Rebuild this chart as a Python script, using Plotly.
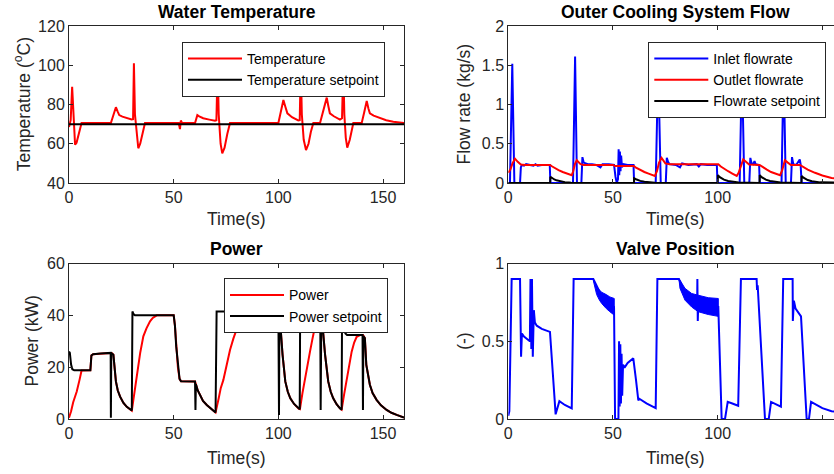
import plotly.graph_objects as go

# ---------------- Data ----------------
x_ticks = [0, 50, 100, 150]
x_ticklabels = ["0", "50", "100", "150"]

# Water temperature
temp_t = [0, 0.8, 1.5, 2.1, 2.9, 3.6, 4.8, 6.0,
          20.0, 21.0, 22.4, 23.2, 24.0, 25.5, 27.5, 29.9, 30.6, 31.0, 31.5, 32.4, 33.1, 34.0, 35.2, 36.3,
          52.4, 53.0, 53.4, 54.0,
          60.2, 61.3, 62.2, 64.1, 67.0, 69.7, 70.4, 71.0, 71.5, 72.4, 73.2, 74.3, 75.6, 76.9,
          100.0, 101.2, 102.4, 103.3, 104.3, 106.5, 109.5, 110.2, 110.7, 111.2, 112.1, 113.2, 114.4, 115.5, 116.7,
          119.9, 121.5, 123.1, 123.9, 124.6, 126.5, 129.4, 130.4, 131.0, 131.5, 132.2, 132.9, 134.1, 135.8,
          139.8, 141.0, 142.2, 143.0, 143.7, 145.5, 148.5, 151.5, 154.9, 157.5, 160.0]
temp_v = [68.5, 72, 89, 72, 59.5, 60.5, 66, 70.6,
          70.6, 74, 78.6, 76.5, 74.6, 73.8, 73, 72.4, 72.5, 101, 75, 63, 57.7, 60, 66, 70.6,
          70.6, 67.5, 71.8, 70.6,
          70.6, 74.6, 74, 73, 72.3, 71.7, 72, 100, 75, 60, 55.1, 58, 65, 70.6,
          70.6, 76, 82.3, 79, 75.5, 73.5, 71.9, 72, 100, 75, 62, 56.8, 60, 66, 70.6,
          70.6, 77, 83.5, 79, 75.5, 74, 72.3, 73, 100, 75, 63, 58, 62, 70.6,
          70.6, 76, 81.8, 78, 75.5, 74.3, 73, 72, 71.2, 70.9, 70.6]
temp_sp_t = [0, 160]
temp_sp_v = [70, 70]

# Outer cooling system flow
flow_in_t = [0, 0.8, 1.9, 2.9, 5.6, 6.0, 6.5, 7.5, 8.5, 10, 12, 13, 14, 16, 19.8, 20.1,
             30.9, 31.9, 32.8, 34.9, 35.4, 36.0, 36.8, 38, 40, 42, 44, 45, 48, 50.5,
             51.2, 51.8, 52.4, 52.7, 53.0, 53.3, 53.6, 53.9, 54.3, 55, 57, 59.8, 60.1,
             70.4, 71.6, 72.8, 75.2, 75.7, 76.3, 77, 80, 82, 83, 86, 90, 91, 92, 95, 99.6, 99.9,
             110.5, 111.6, 112.7, 115.1, 115.6, 116.2, 117, 117.6, 118.1, 119.8, 120.1,
             130.5, 131.5, 132.5, 135.0, 135.5, 136.1, 137.5, 139.2, 139.6, 140.1, 160]
flow_in_v = [0, 0, 1.52, 0, 0, 0.2, 0.23, 0.22, 0.24, 0.23, 0.22, 0.24, 0.22, 0.23, 0.23, 0,
             0, 1.61, 0, 0, 0.33, 0.26, 0.25, 0.24, 0.24, 0.23, 0.2, 0.24, 0.24, 0.23,
             0.08, 0, 0.05, 0.43, 0.1, 0.4, 0.15, 0.35, 0.2, 0.24, 0.23, 0.23, 0,
             0, 1.5, 0, 0, 0.32, 0.27, 0.24, 0.23, 0.2, 0.25, 0.23, 0.24, 0.21, 0.24, 0.23, 0.23, 0,
             0, 1.5, 0, 0, 0.32, 0.25, 0.24, 0.28, 0.24, 0.23, 0,
             0, 1.5, 0, 0, 0.33, 0.24, 0.23, 0.3, 0.24, 0, 0]
flow_out_t = [0, 1.0, 2.0, 3.2, 4.5, 6.0, 8.0, 19.9, 21.0, 22.5, 24.0, 26.0, 28.0, 30.3,
              31.0, 31.8, 32.7, 33.5, 34.5, 36.0, 50.0, 51.0, 60.0, 61.0, 63.0, 65.0, 67.0, 70.0,
              71.0, 72.0, 73.2, 74.0, 75.0, 77.0, 100.3, 101.5, 103.0, 105.0, 107.0, 109.1,
              110.0, 111.0, 112.2, 113.5, 115.0, 120.0, 121.5, 123.5, 125.5, 127.5, 129.8,
              130.8, 132.1, 133.5, 135.0, 139.3, 141.0, 143.0, 146.5, 150.0, 154.4, 157.0, 160.0]
flow_out_v = [0.13, 0.17, 0.25, 0.31, 0.27, 0.235, 0.23, 0.23, 0.21, 0.185, 0.165, 0.14, 0.12, 0.1,
              0.15, 0.24, 0.29, 0.27, 0.24, 0.23, 0.23, 0.215, 0.215, 0.195, 0.165, 0.14, 0.12, 0.09,
              0.15, 0.26, 0.32, 0.28, 0.25, 0.24, 0.24, 0.21, 0.18, 0.15, 0.12, 0.09,
              0.13, 0.22, 0.3, 0.27, 0.235, 0.23, 0.2, 0.17, 0.14, 0.12, 0.1,
              0.16, 0.29, 0.26, 0.23, 0.23, 0.2, 0.17, 0.13, 0.095, 0.065, 0.05, 0.04]
flow_sp_t = [0, 20.0, 20.1, 21, 22, 23, 25, 27, 29, 30,
             60, 60.1, 61, 62, 63, 65, 67, 69, 70,
             100, 100.1, 101, 102, 103, 105, 107, 109, 110,
             120, 120.1, 121, 122, 123, 125, 127, 129, 130,
             140, 140.1, 141, 142, 143, 145, 147, 149, 160]
flow_sp_v = [0, 0, 0.08, 0.06, 0.045, 0.034, 0.02, 0.011, 0.006, 0.004,
             0, 0.06, 0.048, 0.036, 0.027, 0.016, 0.009, 0.005, 0.004,
             0, 0.1, 0.075, 0.056, 0.042, 0.025, 0.015, 0.009, 0.007,
             0, 0.1, 0.075, 0.056, 0.042, 0.025, 0.015, 0.009, 0.007,
             0, 0.09, 0.068, 0.05, 0.038, 0.022, 0.013, 0.008, 0.004]
flow_ticks = [0, 0.5, 1, 1.5, 2]
flow_ticklabels = ["0", "0.5", "1", "1.5", "2"]

# Power
pow_t = [0, 1.0, 2.0, 3.7, 5.0, 6.0, 10.2, 10.7, 11.5, 15, 20.0, 20.6, 21.2, 21.7, 22.4, 23.3, 24.4, 26.0, 27.6, 30.0,
         31.0, 32.0, 33.0, 34.0, 35.5, 37.0, 38.7, 40.0, 41.9, 50.0, 50.6, 51.2, 52.0, 52.8, 53.5, 60.2, 60.8, 61.5,
         62.6, 64.0, 65.8, 67.8, 70.0,
         71.5, 72.5, 73.7, 75.2, 76.9, 78.5, 80.0, 82.0, 85.0, 90.0, 100.0,
         100.8, 102.0, 103.3, 104.5, 105.7, 107.5, 109.7, 110.3,
         111.5, 112.7, 113.9, 115.1, 116.3, 117.5, 118.8, 120.2,
         121.0, 122.3, 123.8, 125.0, 126.2, 127.8, 129.4, 130.2,
         131.4, 132.6, 133.8, 135.0, 136.2, 137.4, 139.0, 140.4,
         141.3, 142.0, 143.7, 145.0, 146.9, 149.0, 151.7, 154.0, 156.5, 158.0, 160.0]
pow_v = [0.5, 3.0, 6.5, 10.6, 15.0, 18.7, 18.8, 24.5, 25.0, 25.3, 25.5, 25.3, 24.8, 20.5, 14.5, 11.0, 8.6, 6.2, 4.7, 3.2,
         9.0, 15.0, 20.9, 25.5, 31.9, 35.0, 37.7, 39.0, 40.0, 40.0, 36.0, 28.0, 20.0, 15.5, 14.6, 14.5, 12.5, 11.0,
         9.3, 7.0, 5.4, 4.0, 2.5,
         8.0, 12.0, 15.0, 21.0, 26.6, 31.0, 34.5, 37.5, 40.0, 41.2, 41.5,
         38.0, 24.8, 14.5, 10.5, 8.0, 5.8, 4.0, 3.8,
         10.0, 15.7, 21.0, 26.0, 31.0, 35.7, 38.5, 40.0,
         37.0, 24.8, 14.5, 10.5, 8.0, 5.7, 4.1, 3.6,
         9.5, 15.0, 20.5, 26.0, 29.5, 31.7, 32.4, 32.4,
         31.2, 20.9, 13.2, 10.0, 7.4, 5.3, 3.5, 2.4, 1.6, 1.1, 0.6]
psp_t = [0, 0.4, 1.0, 1.6, 2.5, 10.2, 10.7, 11.5, 15, 19.9, 20.0, 20.2, 21.2, 21.7, 22.4, 23.3, 24.4, 26.0, 27.6, 30.0,
         30.3, 30.8, 31.5, 50.0, 50.6, 51.2, 52.0, 52.8, 53.5, 60.2, 60.4, 60.6, 61.5, 62.6, 64.0, 65.8, 67.8, 70.0,
         70.5, 100.0, 100.3, 100.5, 100.8, 102.0, 103.3, 104.5, 105.7, 107.5, 109.7, 110.2, 110.4, 120.0, 120.2,
         120.5, 121.0, 122.3, 123.8, 125.0, 126.2, 127.8, 129.4, 130.2, 130.4, 131.2, 132.0, 132.8, 140.2, 140.4,
         140.6, 141.3, 142.0, 143.7, 145.0, 146.9, 149.0, 151.7, 154.0, 156.5, 158.0, 160.0]
psp_v = [26, 25.5, 21, 19.2, 18.8, 18.8, 24.5, 25, 25.3, 25.5, 0.5, 25.5, 24.8, 20.5, 14.5, 11, 8.6, 6.2, 4.7, 3.3,
         41.5, 40.5, 40, 40, 36, 28, 20, 15.5, 14.6, 14.5, 3.5, 13.5, 11, 9.3, 7, 5.4, 4, 2.5,
         41.5, 41.5, 1.5, 40, 38, 24.8, 14.5, 10.5, 8, 5.8, 4, 3.8, 41, 41, 3.5,
         39, 37, 24.8, 14.5, 10.5, 8, 5.7, 4.1, 3.6, 38, 35, 33, 32.4, 32.4, 3.5,
         32, 31.2, 20.9, 13.2, 10, 7.4, 5.3, 3.5, 2.4, 1.6, 1.1, 0.6]

# Valve position
valve_t = [0, 0.5, 1.6, 5.6, 6.1, 6.5, 7.5, 10.3, 10.6, 11.0, 11.3, 11.7, 12.2, 12.7, 13.6, 16.0, 19.9, 21.0,
           22.0, 22.6, 23.2, 24.4, 27.0, 30.3, 31.2, 40.6, 45.0, 50.5, 51.0, 52.6, 52.9, 53.2, 53.5, 53.8, 54.1,
           54.4, 54.8, 55.5, 57.0, 59.7, 61.0, 62.1, 62.6, 66.0, 70.4, 71.2, 81.5, 86.0, 90.2, 90.3, 90.5, 90.7,
           100.3, 101.9, 103.5, 104.8, 107.0, 109.8, 111.1, 118.6, 118.8, 119.1, 122.6, 124.4, 125.5, 128.0,
           130.2, 131.3, 135.8, 135.9, 136.4, 137.2, 139.8, 142.5, 143.6, 144.6, 147.0, 150.0, 154.4, 157.0, 160.0]
valve_v = [0.02, 0.05, 0.9, 0.9, 0.4, 0.55, 0.53, 0.5, 0.9, 0.45, 0.9, 0.4, 0.7, 0.62, 0.6, 0.58, 0.56, 0.37,
           0.15, 0.03, 0.06, 0.115, 0.09, 0.068, 0.9, 0.9, 0.78, 0.72, 0.0, 0.0, 0.5, 0.08, 0.48, 0.1, 0.42,
           0.15, 0.35, 0.33, 0.36, 0.39, 0.25, 0.12, 0.13, 0.1, 0.07, 0.9, 0.9, 0.76, 0.74, 0.9, 0.63, 0.73,
           0.72, 0.0, 0.0, 0.11, 0.1, 0.085, 0.9, 0.9, 0.83, 0.86, 0.0, 0.0, 0.11, 0.095,
           0.08, 0.9, 0.9, 0.63, 0.76, 0.71, 0.66, 0.0, 0.0, 0.11, 0.09, 0.07, 0.05, 0.045, 0.04]
# envelopes of the fast valve oscillation
band1_t = [40.6, 41.5, 42.2, 43.5, 44.6, 46.8, 48.5, 50.6]
band1_hi = [0.9, 0.87, 0.85, 0.83, 0.815, 0.80, 0.785, 0.775]
band1_lo = [0.89, 0.84, 0.80, 0.765, 0.743, 0.71, 0.69, 0.668]
band2_t = [81.5, 82.0, 84.4, 87.6, 90.7, 95.5, 100.3]
band2_hi = [0.9, 0.893, 0.84, 0.807, 0.796, 0.78, 0.775]
band2_lo = [0.9, 0.84, 0.764, 0.72, 0.69, 0.672, 0.66]
valve_ticks = [0, 0.5, 1]
valve_ticklabels = ["0", "0.5", "1"]

for a, b in [(temp_t, temp_v), (flow_in_t, flow_in_v), (flow_out_t, flow_out_v), (flow_sp_t, flow_sp_v),
             (pow_t, pow_v), (psp_t, psp_v), (valve_t, valve_v)]:
    assert len(a) == len(b), (len(a), len(b))

# ---------------- Figure ----------------
W, H = 834, 474
FONT = "Liberation Sans, Arial, Helvetica, sans-serif"
AX = "#262626"
RED, BLUE, BLACK = "#FF0000", "#0000FF", "#000000"
LW = 2


def px_x(p):
    return p / W


def px_y(p):
    return 1 - p / H


fig = go.Figure()

# Temperature
fig.add_trace(go.Scatter(x=temp_t, y=temp_v, mode="lines", name="Temperature",
                         line=dict(color=RED, width=LW), xaxis="x", yaxis="y", legend="legend"))
fig.add_trace(go.Scatter(x=temp_sp_t, y=temp_sp_v, mode="lines", name="Temperature setpoint",
                         line=dict(color=BLACK, width=LW), xaxis="x", yaxis="y", legend="legend"))
# Flow
fig.add_trace(go.Scatter(x=flow_in_t, y=flow_in_v, mode="lines", name="Inlet flowrate",
                         line=dict(color=BLUE, width=LW), xaxis="x2", yaxis="y2", legend="legend2"))
fig.add_trace(go.Scatter(x=flow_out_t, y=flow_out_v, mode="lines", name="Outlet flowrate",
                         line=dict(color=RED, width=LW), xaxis="x2", yaxis="y2", legend="legend2"))
fig.add_trace(go.Scatter(x=flow_sp_t, y=flow_sp_v, mode="lines", name="Flowrate setpoint",
                         line=dict(color=BLACK, width=LW), xaxis="x2", yaxis="y2", legend="legend2"))
# Power
fig.add_trace(go.Scatter(x=pow_t, y=pow_v, mode="lines", name="Power",
                         line=dict(color=RED, width=LW), xaxis="x3", yaxis="y3", legend="legend3"))
fig.add_trace(go.Scatter(x=psp_t, y=psp_v, mode="lines", name="Power setpoint",
                         line=dict(color=BLACK, width=LW), xaxis="x3", yaxis="y3", legend="legend3"))
# Valve
for bt, bh, bl in [(band1_t, band1_hi, band1_lo), (band2_t, band2_hi, band2_lo)]:
    fig.add_trace(go.Scatter(x=bt + bt[::-1], y=bh + bl[::-1], mode="lines", fill="toself",
                             fillcolor=BLUE, line=dict(color=BLUE, width=1), showlegend=False,
                             hoverinfo="skip", xaxis="x4", yaxis="y4"))
fig.add_trace(go.Scatter(x=valve_t, y=valve_v, mode="lines", name="Valve position",
                         line=dict(color=BLUE, width=LW), xaxis="x4", yaxis="y4", showlegend=False))

axis_common = dict(showline=True, linecolor=AX, linewidth=1, ticks="inside", ticklen=4,
                   tickcolor=AX, tickwidth=1, showgrid=False, zeroline=False, automargin=False,
                   tickfont=dict(family=FONT, size=16, color=AX))

LEFT = [px_x(69), px_x(404)]
RIGHT = [px_x(508.3), 1.0]
TOP = [px_y(183), px_y(26)]
BOT = [px_y(419), px_y(263.5)]
RIGHT_MAX = (834 - 508.3) / ((404 - 69) / 160)

fig.update_layout(
    xaxis=dict(domain=LEFT, range=[0, 160], anchor="y", tickvals=x_ticks, ticktext=x_ticklabels,
               mirror="ticks", **axis_common),
    yaxis=dict(domain=TOP, range=[40, 120], anchor="x", tickvals=[40, 60, 80, 100, 120],
               mirror="ticks", **axis_common),
    xaxis2=dict(domain=RIGHT, range=[0, RIGHT_MAX], anchor="y2", tickvals=x_ticks, ticktext=x_ticklabels,
                mirror="ticks", **axis_common),
    yaxis2=dict(domain=TOP, range=[0, 2], anchor="x2", tickvals=flow_ticks, ticktext=flow_ticklabels,
                mirror=False, **axis_common),
    xaxis3=dict(domain=LEFT, range=[0, 160], anchor="y3", tickvals=x_ticks, ticktext=x_ticklabels,
                mirror="ticks", **axis_common),
    yaxis3=dict(domain=BOT, range=[0, 60], anchor="x3", tickvals=[0, 20, 40, 60],
                mirror="ticks", **axis_common),
    xaxis4=dict(domain=RIGHT, range=[0, RIGHT_MAX], anchor="y4", tickvals=x_ticks, ticktext=x_ticklabels,
                mirror="ticks", **axis_common),
    yaxis4=dict(domain=BOT, range=[0, 1], anchor="x4", tickvals=valve_ticks, ticktext=valve_ticklabels,
                mirror=False, **axis_common),
    width=W, height=H, margin=dict(l=0, r=0, t=0, b=0, autoexpand=False),
    paper_bgcolor="white", plot_bgcolor="white",
    font=dict(family=FONT, color=AX),
    showlegend=True,
)

leg_common = dict(xanchor="left", yanchor="top", bgcolor="white", bordercolor=AX, borderwidth=1,
                  font=dict(family=FONT, size=14, color="#000000"), itemwidth=54, tracegroupgap=0,
                  itemclick=False, itemdoubleclick=False)
fig.update_layout(
    legend=dict(x=px_x(182), y=px_y(42), **leg_common),
    legend2=dict(x=px_x(648.3), y=px_y(42), **leg_common),
    legend3=dict(x=px_x(224), y=px_y(278.3), **leg_common),
)

ann = []
title_font = dict(family=FONT, size=17.5, color="#000000")
label_font = dict(family=FONT, size=17.5, color=AX)
for text, xc, yc in [("<b>Water Temperature</b>", 236.5, 12), ("<b>Outer Cooling System Flow</b>", 675.8, 12),
                     ("<b>Power</b>", 236.5, 249), ("<b>Valve Position</b>", 675.8, 249)]:
    ann.append(dict(text=text, x=px_x(xc), y=px_y(yc), xref="paper", yref="paper", xanchor="center",
                    yanchor="middle", showarrow=False, font=title_font))
for xc, yc in [(236.5, 219), (675.8, 219), (236.5, 458), (675.8, 458)]:
    ann.append(dict(text="Time(s)", x=px_x(xc), y=px_y(yc), xref="paper", yref="paper", xanchor="center",
                    yanchor="middle", showarrow=False, font=label_font))
for text, xc, yc in [("Temperature (<sup>o</sup>C)", 21.7, 104.5), ("Flow rate (kg/s)", 463, 104.5),
                     ("Power (kW)", 31, 341.5), ("(-)", 463.3, 341.5)]:
    ann.append(dict(text=text, x=px_x(xc), y=px_y(yc), xref="paper", yref="paper", xanchor="center",
                    yanchor="middle", textangle=-90, showarrow=False, font=label_font))
fig.update_layout(annotations=ann)

fig.write_html("out.html", config={"displayModeBar": False},
               post_script="document.body.style.margin='0';document.body.style.overflow='hidden';")
